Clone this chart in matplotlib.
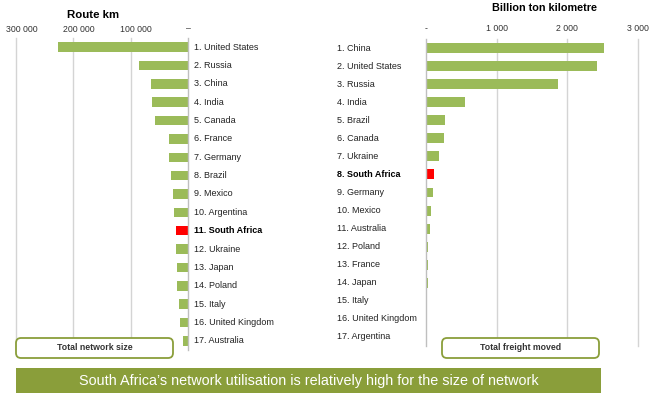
import matplotlib
matplotlib.use('Agg')
import matplotlib.pyplot as plt
from matplotlib.patches import FancyBboxPatch, Rectangle
import matplotlib.transforms as mtrans

plt.rcParams['font.family'] = ['Liberation Sans', 'DejaVu Sans']

# ---- data ----
route_countries = ['1. United States', '2. Russia', '3. China', '4. India', '5. Canada',
                   '6. France', '7. Germany', '8. Brazil', '9. Mexico', '10. Argentina',
                   '11. South Africa', '12. Ukraine', '13. Japan', '14. Poland', '15. Italy',
                   '16. United Kingdom', '17. Australia']
route_km = [226000, 85500, 65000, 62000, 57500, 33000, 33000, 29000, 26200, 25000,
            21500, 20300, 18600, 18600, 15700, 14500, 8700]

freight_countries = ['1. China', '2. United States', '3. Russia', '4. India', '5. Brazil',
                     '6. Canada', '7. Ukraine', '8. South Africa', '9. Germany', '10. Mexico',
                     '11. Australia', '12. Poland', '13. France', '14. Japan', '15. Italy',
                     '16. United Kingdom', '17. Argentina']
freight_btkm = [2520, 2425, 1865, 552, 269, 259, 189, 113, 94, 71, 57, 33, 33, 24, 10, 10, 8]

route_ticks = [300000, 200000, 100000, 0]
route_tick_labels = ['300 000', '200 000', '100 000', '–']
freight_ticks = [0, 1000, 2000, 3000]
freight_tick_labels = ['-', '1 000', '2 000', '3 000']

highlight = 'South Africa'

# ---- style ----
GREEN = '#9BBB59'
RED = '#FF0000'
OLIVE = '#8A9E3A'
GRID = '#D4D4D4'
ZERO = '#BFBFBF'

W, H = 650, 395
fig = plt.figure(figsize=(W / 100, H / 100), dpi=100)


def px_axes(x0, y0, x1, y1):
    return fig.add_axes([x0 / W, 1 - y1 / H, (x1 - x0) / W, (y1 - y0) / H])


def fx(x):
    return x / W


def fy(y):
    return 1 - y / H


# ---- left chart ----
axL = px_axes(16, 38, 188, 350)
n = len(route_countries)
colsL = [RED if highlight in c else GREEN for c in route_countries]
axL.barh(range(n), route_km, height=0.52, color=colsL, zorder=3)
axL.set_xlim(300000, 0)
axL.set_ylim(n - 0.5, -0.5)
for t in route_ticks[:-1]:
    axL.axvline(t, color=GRID, lw=1.0, zorder=1, clip_on=False)
axL.axvline(0, color=ZERO, lw=1.0, zorder=4, clip_on=False)
axL.xaxis.tick_top()
axL.set_xticks(route_ticks)
axL.set_xticklabels(route_tick_labels, fontsize=6.3, color='#333333')
axL.tick_params(axis='x', length=0, pad=3.2)
for lab, t in zip(axL.get_xticklabels(), route_ticks):
    if t != 0:
        lab.set_transform(lab.get_transform() +
                          mtrans.ScaledTranslation(0.055, 0, fig.dpi_scale_trans))
axL.set_yticks([])
for s in axL.spines.values():
    s.set_visible(False)
trL = mtrans.blended_transform_factory(fig.transFigure, axL.transData)
for i, c in enumerate(route_countries):
    axL.text(fx(194), i, c, transform=trL, ha='left', va='center', fontsize=6.5,
             color='black' if highlight in c else '#222222',
             fontweight='bold' if highlight in c else 'normal')

# ---- right chart ----
axR = px_axes(426, 39, 637.7, 346)
m = len(freight_countries)
colsR = [RED if highlight in c else GREEN for c in freight_countries]
axR.barh(range(m), freight_btkm, height=0.55, color=colsR, zorder=3)
axR.set_xlim(0, 3000)
axR.set_ylim(m - 0.5, -0.5)
for t in freight_ticks[1:]:
    axR.axvline(t, color=GRID, lw=1.0, zorder=1, clip_on=False)
axR.axvline(0, color=ZERO, lw=1.0, zorder=4, clip_on=False)
axR.xaxis.tick_top()
axR.set_xticks(freight_ticks)
axR.set_xticklabels(freight_tick_labels, fontsize=6.3, color='#333333')
axR.tick_params(axis='x', length=0, pad=4)
axR.set_yticks([])
for s in axR.spines.values():
    s.set_visible(False)
trR = mtrans.blended_transform_factory(fig.transFigure, axR.transData)
for i, c in enumerate(freight_countries):
    axR.text(fx(337), i, c, transform=trR, ha='left', va='center', fontsize=6.5,
             color='black' if highlight in c else '#222222',
             fontweight='bold' if highlight in c else 'normal')

# ---- titles ----
fig.text(fx(93), fy(15), 'Route km', ha='center', va='center', fontsize=8.2, fontweight='bold')
fig.text(fx(545), fy(8), 'Billion ton kilometre', ha='center', va='center', fontsize=7.8,
         fontweight='bold')


# ---- boxes ----
def rbox(x0, y0, x1, y1, text):
    p = FancyBboxPatch((x0 / 100, (H - y1) / 100), (x1 - x0) / 100, (y1 - y0) / 100,
                       boxstyle='round,pad=0,rounding_size=0.05',
                       transform=fig.dpi_scale_trans, facecolor='white',
                       edgecolor=OLIVE, lw=1.3, zorder=10)
    fig.add_artist(p)
    fig.text(fx((x0 + x1) / 2), fy((y0 + y1) / 2), text, ha='center', va='center',
             fontsize=6.3, fontweight='bold', color='#333333', zorder=11)


rbox(16, 338, 173, 358, 'Total network size')
rbox(442, 338, 599, 358, 'Total freight moved')

banner = Rectangle((16 / 100, (H - 393) / 100), (601 - 16) / 100, (393 - 368) / 100,
                   transform=fig.dpi_scale_trans, facecolor=OLIVE, edgecolor='none', zorder=10)
fig.add_artist(banner)
fig.text(fx((16 + 601) / 2), fy(380.5),
         'South Africa\u2019s network utilisation is relatively high for the size of network',
         ha='center', va='center', fontsize=10.4, color='white', zorder=11)

fig.savefig('out.png', dpi=100)
